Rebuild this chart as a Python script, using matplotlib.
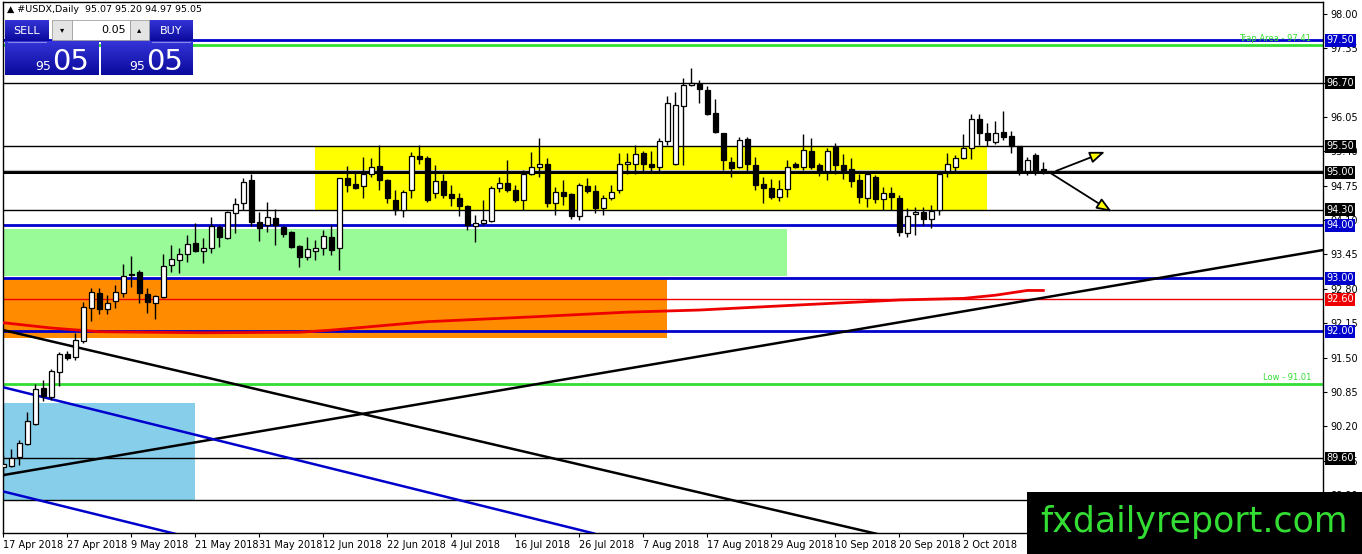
import numpy as np
import matplotlib
matplotlib.use("Agg")
import matplotlib.pyplot as plt
from matplotlib.patches import Rectangle

# ---- data (USDX daily, 17 Apr 2018 onward) ----
opens = [89.43, 89.46, 89.62, 89.87, 90.25, 90.93, 90.76, 91.23, 91.57, 91.51,
         91.81, 92.44, 92.72, 92.42, 92.57, 92.72, 93.09, 93.12, 92.70, 92.53,
         92.65, 93.25, 93.34, 93.46, 93.67, 93.52, 93.57, 93.97, 93.76, 94.23,
         94.42, 94.86, 94.06, 94.01, 94.14, 93.97, 93.88, 93.61, 93.40, 93.52,
         93.57, 93.78, 93.57, 94.89, 94.78, 94.74, 94.97, 95.12, 94.86, 94.48,
         94.29, 94.66, 95.31, 95.27, 94.61, 94.83, 94.59, 94.51, 94.37, 93.98,
         94.04, 94.08, 94.70, 94.81, 94.67, 94.48, 94.98, 95.10, 95.16, 94.42,
         94.64, 94.59, 94.18, 94.75, 94.65, 94.32, 94.51, 94.66, 95.16, 95.17,
         95.36, 95.16, 95.11, 95.60, 95.17, 96.26, 96.65, 96.67, 96.56, 96.12,
         95.74, 95.20, 95.10, 95.63, 95.14, 94.78, 94.70, 94.53, 94.68, 95.17,
         95.11, 95.41, 95.14, 95.02, 95.49, 95.14, 95.06, 94.85, 94.51, 94.91,
         94.49, 94.61, 94.51, 93.85, 94.21, 94.25, 94.12, 94.29, 95.02, 95.10,
         95.27, 95.47, 96.02, 95.74, 95.58, 95.77, 95.69, 95.50, 95.02, 95.33,
         95.07]
highs = [89.66, 89.77, 89.94, 90.47, 91.00, 91.08, 91.28, 91.61, 91.62, 91.97,
         92.55, 92.82, 92.82, 92.68, 92.87, 93.27, 93.42, 93.16, 92.82, 92.68,
         93.46, 93.63, 93.57, 93.82, 94.04, 93.76, 94.16, 94.01, 94.27, 94.52,
         94.90, 94.97, 94.25, 94.44, 94.31, 93.99, 93.90, 93.63, 93.78, 93.72,
         93.91, 94.01, 94.90, 95.12, 95.03, 95.29, 95.27, 95.52, 94.88, 94.67,
         94.67, 95.39, 95.52, 95.31, 95.14, 94.98, 94.76, 94.61, 94.38, 94.20,
         94.48, 94.75, 94.92, 95.24, 94.76, 95.05, 95.39, 95.65, 95.27, 94.73,
         94.86, 94.61, 94.80, 94.90, 94.76, 94.57, 94.76, 95.36, 95.36, 95.52,
         95.40, 95.40, 95.65, 96.45, 96.53, 96.79, 96.97, 96.75, 96.64, 96.39,
         95.75, 95.30, 95.68, 95.68, 95.30, 94.92, 94.88, 94.85, 95.24, 95.19,
         95.73, 95.65, 95.18, 95.46, 95.55, 95.35, 95.27, 94.98, 95.00, 94.95,
         94.73, 94.73, 94.57, 94.32, 94.35, 94.35, 94.39, 94.97, 95.36, 95.34,
         95.73, 96.11, 96.11, 95.93, 95.97, 96.17, 95.79, 95.50, 95.29, 95.36,
         95.20]
lows = [89.25, 89.43, 89.47, 89.85, 90.23, 90.68, 90.70, 90.96, 91.45, 91.46,
        91.78, 92.19, 92.33, 92.33, 92.44, 92.65, 92.83, 92.53, 92.34, 92.23,
        92.63, 93.12, 93.10, 93.31, 93.50, 93.29, 93.48, 93.59, 93.74, 93.86,
        94.29, 93.99, 93.70, 93.88, 93.63, 93.78, 93.57, 93.21, 93.35, 93.35,
        93.44, 93.44, 93.16, 94.64, 94.68, 94.51, 94.92, 94.66, 94.42, 94.20,
        94.15, 94.51, 95.17, 94.45, 94.51, 94.51, 94.37, 94.18, 93.91, 93.69,
        94.01, 94.06, 94.64, 94.64, 94.45, 94.29, 94.95, 94.92, 94.35, 94.20,
        94.39, 94.13, 94.10, 94.61, 94.24, 94.20, 94.48, 94.61, 94.98, 94.98,
        95.03, 95.03, 95.02, 95.52, 95.14, 95.14, 96.64, 96.31, 96.08, 95.74,
        95.05, 94.92, 95.08, 95.02, 94.67, 94.42, 94.50, 94.46, 94.53, 95.09,
        95.05, 95.06, 94.93, 94.85, 94.98, 94.87, 94.73, 94.42, 94.35, 94.42,
        94.29, 94.29, 93.80, 93.79, 93.82, 94.00, 93.95, 94.20, 94.92, 95.00,
        95.25, 95.25, 95.52, 95.50, 95.53, 95.61, 95.36, 94.95, 94.95, 94.95,
        94.97]
closes = [89.48, 89.60, 89.89, 90.30, 90.91, 90.78, 91.25, 91.57, 91.49, 91.83,
          92.46, 92.74, 92.42, 92.53, 92.74, 93.04, 93.07, 92.72, 92.55, 92.66,
          93.23, 93.36, 93.46, 93.65, 93.52, 93.57, 93.99, 93.78, 94.25, 94.40,
          94.82, 94.06, 93.95, 94.16, 94.01, 93.84, 93.59, 93.40, 93.55, 93.57,
          93.80, 93.53, 94.89, 94.76, 94.71, 94.98, 95.10, 94.85, 94.51, 94.29,
          94.64, 95.31, 95.26, 94.48, 94.83, 94.57, 94.52, 94.37, 94.01, 94.05,
          94.10, 94.70, 94.80, 94.67, 94.48, 94.98, 95.10, 95.17, 94.43, 94.64,
          94.56, 94.18, 94.76, 94.65, 94.32, 94.51, 94.64, 95.16, 95.19, 95.35,
          95.16, 95.10, 95.60, 96.31, 96.28, 96.65, 96.70, 96.57, 96.10, 95.76,
          95.24, 95.08, 95.61, 95.16, 94.76, 94.70, 94.53, 94.68, 95.10, 95.11,
          95.43, 95.10, 95.02, 95.41, 95.14, 95.05, 94.83, 94.53, 94.97, 94.49,
          94.61, 94.53, 93.88, 94.18, 94.25, 94.13, 94.28, 94.97, 95.17, 95.27,
          95.47, 96.02, 95.74, 95.61, 95.74, 95.67, 95.50, 95.00, 95.24, 95.05,
          95.05]

date_labels = ["17 Apr 2018", "27 Apr 2018", "9 May 2018", "21 May 2018", "31 May 2018",
               "12 Jun 2018", "22 Jun 2018", "4 Jul 2018", "16 Jul 2018", "26 Jul 2018",
               "7 Aug 2018", "17 Aug 2018", "29 Aug 2018", "10 Sep 2018", "20 Sep 2018",
               "2 Oct 2018"]

# moving average (red curve), sampled at bars
ma_bars = [0, 6, 12, 25, 37, 41, 53, 66, 78, 87, 100, 112, 120, 124, 128, 130]
ma_values = [92.16, 92.06, 91.99, 91.97, 91.98, 92.02, 92.18, 92.27, 92.36, 92.40,
             92.50, 92.59, 92.62, 92.68, 92.77, 92.77]

# horizontal levels: (price, colour, width, label box colour or None)
levels = [
    (97.50, "#0000cc", 2.0, "#0000cc"),
    (97.41, "#33dd33", 2.0, None),
    (96.70, "black", 1.0, "black"),
    (95.50, "black", 1.0, "black"),
    (95.00, "black", 2.2, "black"),
    (94.30, "black", 1.0, "black"),
    (94.00, "#0000cc", 2.0, "#0000cc"),
    (93.00, "#0000cc", 2.0, "#0000cc"),
    (92.60, "#ee0000", 1.0, "#ee0000"),
    (92.00, "#0000cc", 2.0, "#0000cc"),
    (91.01, "#33dd33", 2.0, None),
    (89.60, "black", 1.0, "black"),
    (88.80, "black", 1.0, None),
]

# zones: (first bar, last bar, low, high, colour)
zones = [
    (39, 123, 94.30, 95.50, "#ffff00"),
    (-1, 98, 93.05, 93.93, "#98fb98"),
    (-1, 83, 91.88, 92.98, "#ff8c00"),
    (-1, 24, 88.80, 90.64, "#87ceeb"),
]

# trend lines: (bar0, price0, bar1, price1, colour)
trends = [
    (0, 89.28, 165, 93.535, "black"),
    (0, 92.02, 110, 88.14, "black"),
    (0, 90.94, 74, 88.17, "#0000cc"),
    (0, 88.97, 22, 88.15, "#0000cc"),
]

# arrows: (bar from, price from, bar to, price to)
arrows = [
    (131.6, 95.03, 137.7, 95.39),
    (131.0, 94.98, 138.55, 94.26),
]

y_ticks = [98.00 - 0.65 * k for k in range(15)]

W, H = 1362, 554
fig = plt.figure(figsize=(W / 100, H / 100), dpi=100)
ax = fig.add_axes([3 / W, 21 / H, 1320 / W, 531 / H])
ax.set_xlim(-0.04, 164.96)
ax.set_ylim(88.185, 98.223)

for b0, b1, lo, hi, col in zones:
    ax.add_patch(Rectangle((b0, lo), b1 - b0, hi - lo, facecolor=col, edgecolor="none", zorder=1))

for price, col, lw, _ in levels:
    ax.axhline(price, color=col, lw=lw, zorder=2)
ax.axhline(95.05, color="#c0c0c0", lw=0.8, zorder=2)

for b0, p0, b1, p1, col in trends:
    ax.plot([b0, b1], [p0, p1], color=col, lw=1.8, zorder=3, solid_capstyle="butt")

ax.plot(ma_bars, ma_values, color="#ee0000", lw=2.0, zorder=3)

x = np.arange(len(opens))
o = np.array(opens)
c = np.array(closes)
ax.vlines(x, lows, highs, color="black", lw=1.0, zorder=4)
up = c >= o
ax.bar(x, np.abs(c - o), bottom=np.minimum(o, c), width=0.62,
       color=np.where(up, "white", "black"), edgecolor="black", linewidth=0.9, zorder=5)

for b0, p0, b1, p1 in arrows:
    ax.annotate("", xy=(b1, p1), xytext=(b0, p0),
                arrowprops=dict(arrowstyle="-|>,head_length=0.9,head_width=0.35",
                                fc="#ffff00", ec="black", lw=1.3, shrinkA=0, shrinkB=0),
                zorder=6)

ax.text(163.5, 97.41 + 0.03, "Trap Area - 97.41", color="#33dd33", fontsize=6,
        ha="right", va="bottom", zorder=6)
ax.text(163.5, 91.01 + 0.03, "Low - 91.01", color="#33dd33", fontsize=6,
        ha="right", va="bottom", zorder=6)

# axes styling
boxed = [round(p, 2) for p, _, _, b in levels if b is not None]
ax.yaxis.tick_right()
ax.set_yticks(y_ticks)
# a tick label that sits exactly under a price box is not seen in the chart
ax.set_yticklabels(["" if round(v, 2) in boxed else f"{v:.2f}" for v in y_ticks])
ax.tick_params(axis="y", labelsize=7, length=3, pad=2, width=0.8)
ax.set_xticks(range(0, 128, 8))
ax.set_xticklabels(date_labels, ha="left")
ax.tick_params(axis="x", labelsize=7, length=3, pad=2, width=0.8)
for s in ax.spines.values():
    s.set_linewidth(1.0)

for price, col, lw, box in levels:
    if box is None:
        continue
    ax.text(1.0025, price, f"{price:.2f}", transform=ax.get_yaxis_transform(),
            fontsize=7, color="white", ha="left", va="center", zorder=10, clip_on=False,
            bbox=dict(boxstyle="square,pad=0.15", fc=box, ec="none"))

# overlay for the trade panel and logo (pixel coords)
ov = fig.add_axes([0, 0, 1, 1], zorder=5)
ov.set_xlim(0, W)
ov.set_ylim(H, 0)
ov.axis("off")
ov.patch.set_alpha(0)

ov.text(7, 9, "\u25b2 #USDX,Daily  95.07 95.20 94.97 95.05", fontsize=6.8, va="center", ha="left")

grad = np.linspace(0, 1, 50).reshape(-1, 1)
blue_cmap = matplotlib.colors.LinearSegmentedColormap.from_list("b", ["#3434d8", "#0a0a9c"])
for x0, x1, y0, y1 in [(5, 49, 20, 41), (149, 193, 20, 41), (5, 99, 41, 75), (101, 193, 41, 75)]:
    ov.imshow(grad, extent=(x0, x1, y1, y0), cmap=blue_cmap, aspect="auto", zorder=1)
ov.plot([8, 46], [41.5, 41.5], color="#9a9ae8", lw=0.6, zorder=2)
ov.plot([152, 190], [41.5, 41.5], color="#9a9ae8", lw=0.6, zorder=2)
ov.add_patch(Rectangle((52, 20), 20, 20, fc="#e4e4e4", ec="#a0a0a0", lw=0.6, zorder=2))
ov.add_patch(Rectangle((72, 20), 58, 20, fc="white", ec="#a0a0a0", lw=0.6, zorder=2))
ov.add_patch(Rectangle((130, 20), 19, 20, fc="#e4e4e4", ec="#a0a0a0", lw=0.6, zorder=2))
ov.text(62, 30, "\u25be", fontsize=6, ha="center", va="center", zorder=3)
ov.text(139.5, 30, "\u25b4", fontsize=6, ha="center", va="center", zorder=3)
ov.text(126, 30, "0.05", fontsize=8, ha="right", va="center", zorder=3)
ov.text(27, 30.5, "SELL", fontsize=8, color="white", ha="center", va="center", zorder=3)
ov.text(171, 30.5, "BUY", fontsize=8, color="white", ha="center", va="center", zorder=3)
for xs in (35, 129):
    ov.text(xs, 70, "95", fontsize=9, color="white", ha="left", va="baseline", zorder=3)
    ov.text(xs + 17, 70, "05", fontsize=21, color="white", ha="left", va="baseline", zorder=3)

ov.add_patch(Rectangle((1027, 492), W - 1027, H - 492, fc="black", ec="none", zorder=8))
ov.text(1194, 522, "fxdailyreport.com", fontsize=25, color="#33dd33", ha="center",
        va="center", zorder=9)

fig.savefig("out.png", dpi=100)
